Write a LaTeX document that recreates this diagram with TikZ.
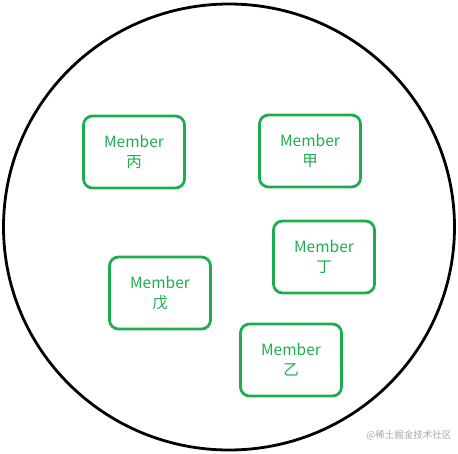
\documentclass[tikz,border=0pt]{standalone}
\usepackage{fontspec}
\newfontfamily\cjk{Noto Sans CJK SC}
\usepackage{xcolor}
\usetikzlibrary{positioning}
\definecolor{membergreen}{RGB}{30,172,80}
\tikzset{
  member/.style={draw=membergreen, line width=2.8pt, rounded corners=9pt,
    minimum width=101pt, minimum height=72pt, align=center,
    text=membergreen, font=\cjk\fontsize{15.5}{20}\selectfont}
}
\begin{document}
\begin{tikzpicture}[x=1pt, y=-1pt]
					\useasboundingbox (0,0) rectangle (458,453);
					% Group circle
					\draw[line width=2.8pt] (229,227) ellipse (225.5 and 223);
					% Members
					\node[member] (bing) at (134,152) {Member\\丙};
					\node[member] (jia) at (310,151) {Member\\甲};
					\node[member] (ding) at (324,257) {Member\\丁};
					\node[member] (wu) at (160,293) {Member\\戊};
					\node[member] (yi) at (291,360) {Member\\乙};
					% Watermark
					\node[gray!70, font=\cjk\fontsize{9.5}{11}\selectfont, anchor=east] (mark) at (455,435) {@稀土掘金技术社区};
				\end{tikzpicture}
\end{document}
